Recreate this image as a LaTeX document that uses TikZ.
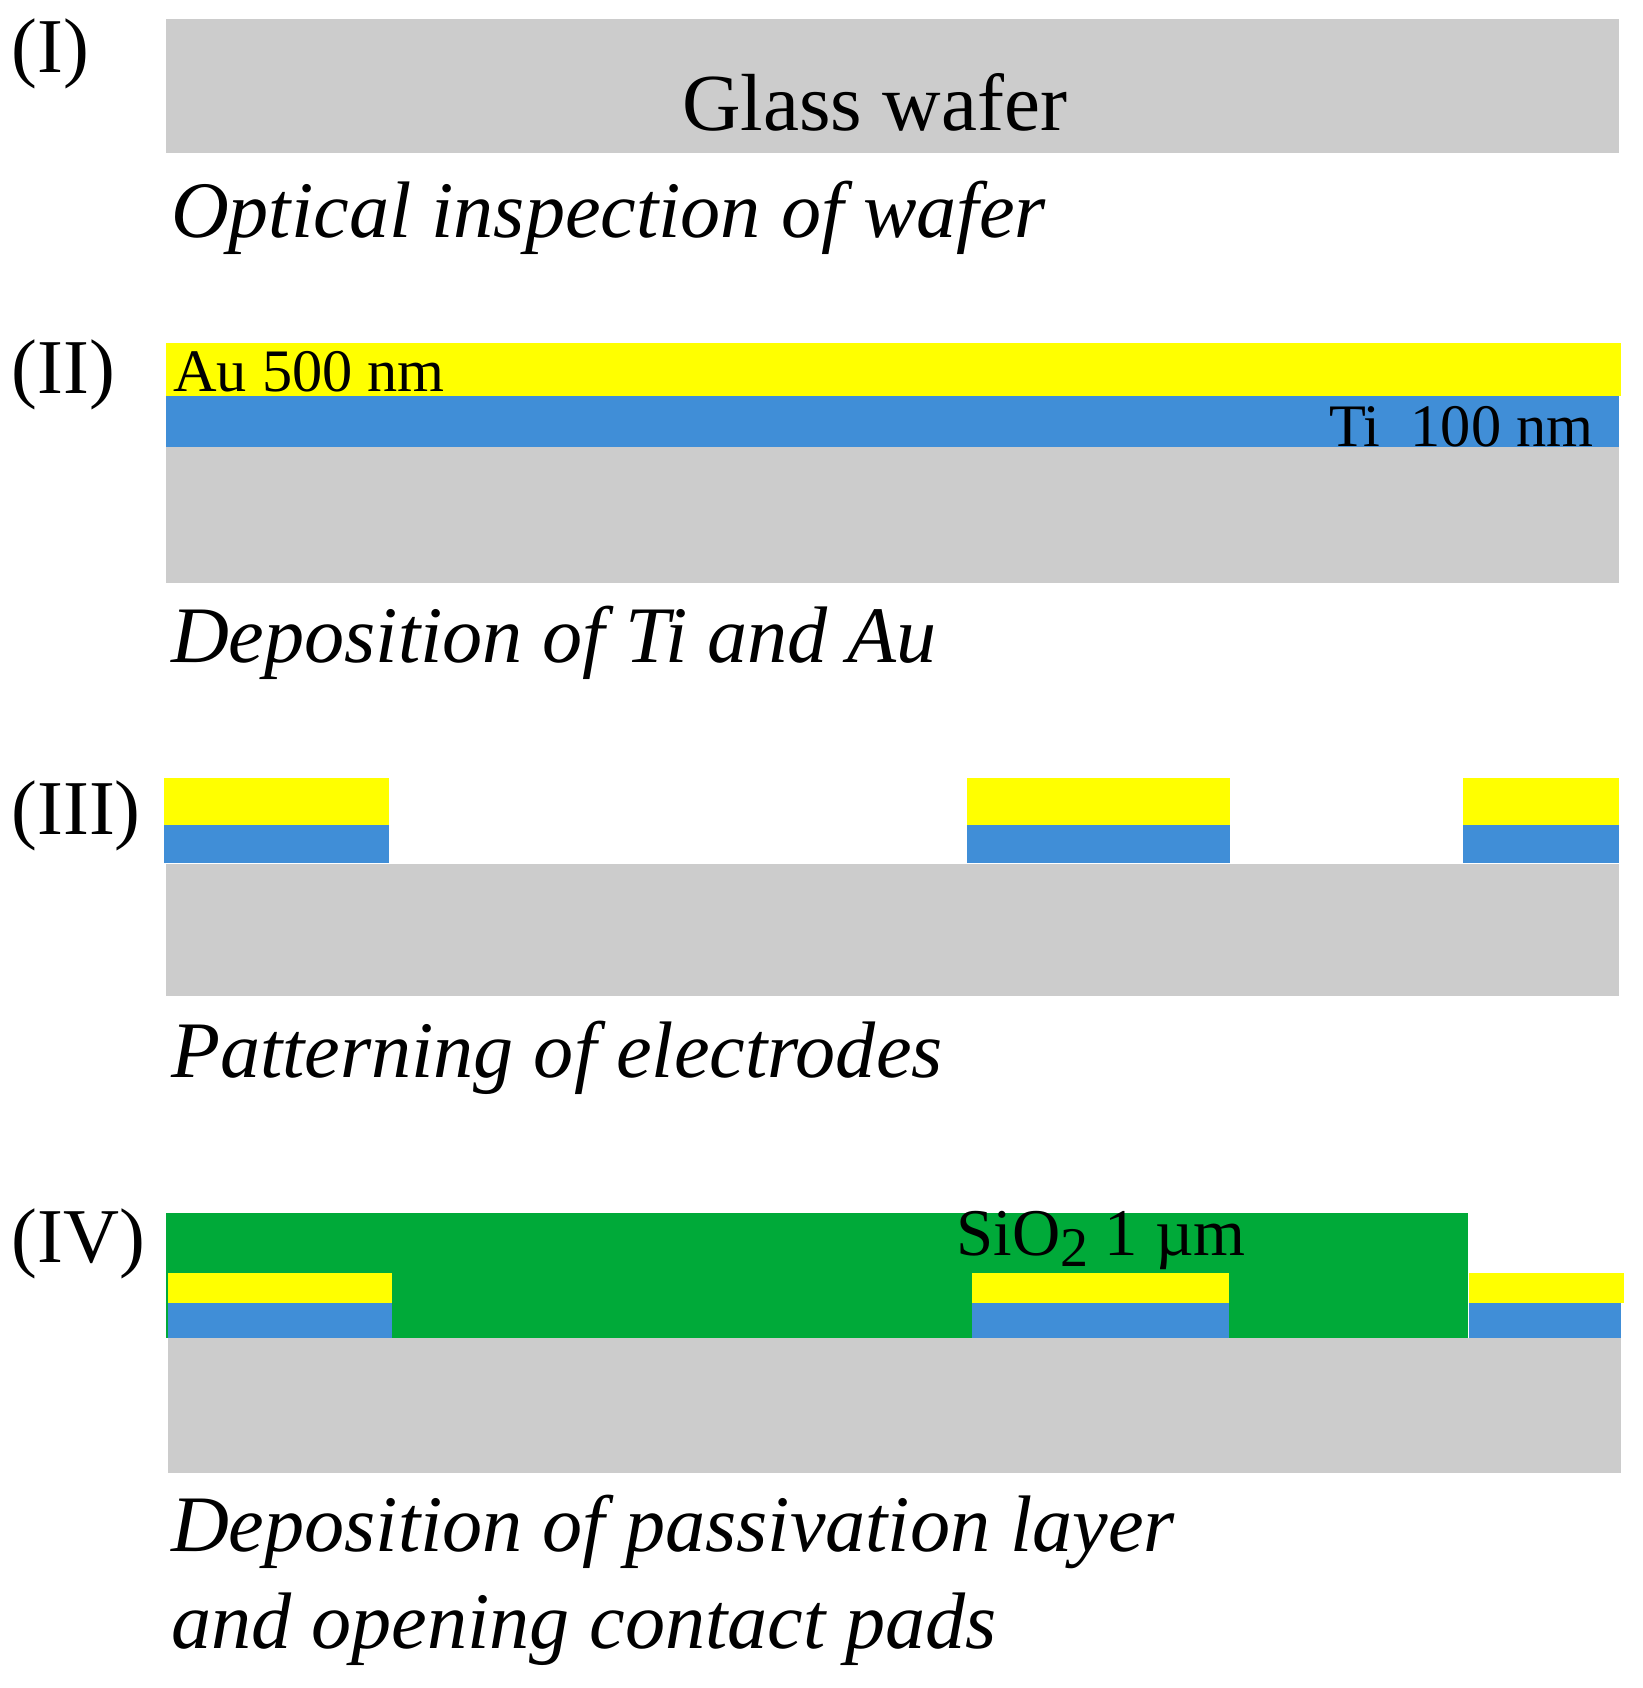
\documentclass[tikz,border=0pt]{standalone}
\usepackage{fontspec}
\setmainfont{Liberation Serif}
\definecolor{glass}{RGB}{204,204,204}
\definecolor{gold}{RGB}{255,255,0}
\definecolor{titan}{RGB}{64,142,215}
\definecolor{oxide}{RGB}{0,170,57}
\tikzset{
  layer/.style={fill=#1, draw=none},
  step label/.style={anchor=west, inner sep=0pt, font=\fontsize{18}{20}\selectfont},
  caption/.style={anchor=base west, inner sep=0pt, font=\fontsize{18.6}{22}\selectfont\itshape},
  film label/.style={inner sep=0pt, font=\fontsize{14}{16}\selectfont}
}
\begin{document}
\begin{tikzpicture}[x=0.25pt,y=-0.25pt]
  \useasboundingbox (0,0) rectangle (1525,1567);
  % step I
  \fill[layer=glass] (154,18) rectangle (1503,142);
  \node[font=\fontsize{18.8}{20}\selectfont, inner sep=0pt] (glass) at (812,95) {Glass wafer};
  \node[step label] (s1) at (10,50) {(I)};
  \node[caption] (c1) at (158,220) {Optical inspection of wafer};
  % step II
  \fill[layer=gold] (154,318) rectangle (1505,368);
  \fill[layer=titan] (154,368) rectangle (1503,415);
  \fill[layer=glass] (154,415) rectangle (1503,541);
  \node[film label, anchor=west] (au) at (160,345) {Au 500 nm};
  \node[film label, anchor=east] (ti) at (1480,396) {Ti\enspace 100 nm};
  \node[step label] (s2) at (10,348) {(II)};
  \node[caption] (c2) at (158,615) {Deposition of Ti and Au};
  % step III
  \fill[layer=glass] (154,802) rectangle (1503,925);
  \foreach \xa/\xb in {152/361, 898/1142, 1358/1503} {
    \fill[layer=gold] (\xa,722) rectangle (\xb,766);
    \fill[layer=titan] (\xa,766) rectangle (\xb,801);
  }
  \node[step label] (s3) at (10,757) {(III)};
  \node[caption] (c3) at (158,1000) {Patterning of electrodes};
  % step IV
  \fill[layer=glass] (156,1242) rectangle (1505,1367);
  \fill[layer=oxide] (154,1126) rectangle (1363,1242);
  \foreach \xa/\xb in {156/364, 902/1141, 1364/1505} {
    \fill[layer=gold] (\xa,1182) rectangle (\xb,1210);
    \fill[layer=titan] (\xa,1210) rectangle (\xb,1242);
  }
  \fill[layer=gold] (1505,1182) rectangle (1508,1210);
  \node[film label, font=\fontsize{15.5}{16}\selectfont] (sio) at (1022,1152) {SiO\raisebox{-0.35ex}{\fontsize{13}{14}\selectfont 2} 1 µm};
  \node[step label] (s4) at (10,1155) {(IV)};
  \node[caption] (c4) at (158,1440) {Deposition of passivation layer};
  \node[caption] (c5) at (158,1530) {and opening contact pads};
\end{tikzpicture}
\end{document}
